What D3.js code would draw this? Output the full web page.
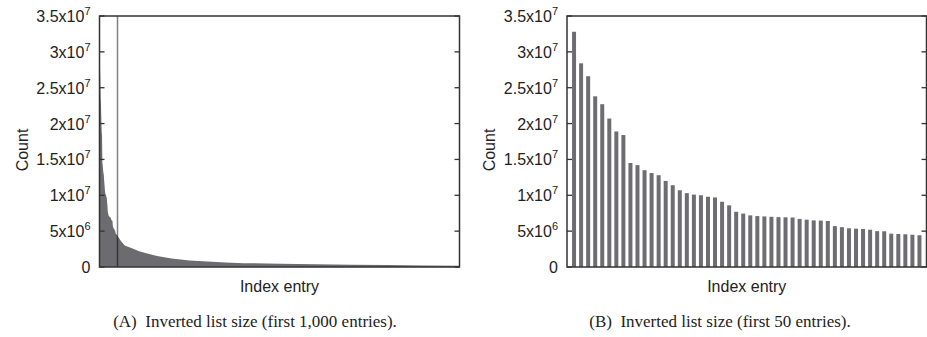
<!DOCTYPE html>
<html>
<head>
<meta charset="utf-8">
<script src="https://cdn.jsdelivr.net/npm/d3@7/dist/d3.min.js"></script>
<style>
  body { margin: 0; background: #fff; }
  svg { display: block; }
  .tick-label { font-family: "Liberation Sans", Arial, sans-serif; font-size: 16px; fill: #222; }
  .axis-title { font-family: "Liberation Sans", Arial, sans-serif; font-size: 16px; fill: #222; }
  .caption { font-family: "Liberation Serif", "Times New Roman", serif; font-size: 17px; fill: #222; }
</style>
</head>
<body>
<svg id="chart" width="927" height="337"></svg>
<script>

// counts (millions) of the first 50 index entries
const topCounts = [32.8, 28.4, 26.6, 23.8, 22.7, 20.7, 18.9, 18.4, 14.5, 14.2,
	13.5, 13.1, 12.8, 12.0, 11.4, 10.7, 10.3, 10.1, 10.0, 9.8,
	9.7, 9.1, 8.6, 7.7, 7.45, 7.2, 7.1, 7.05, 7.0, 6.95,
	6.93, 6.9, 6.7, 6.6, 6.5, 6.47, 6.42, 5.7, 5.55, 5.4,
	5.35, 5.3, 5.2, 5.0, 4.98, 4.65, 4.6, 4.56, 4.5, 4.42];

// tail of the 1,000-entry curve (index, millions)
const tailIndex = [60, 70, 90, 110, 130, 160, 200, 250, 300, 350, 400, 500, 600, 700, 800, 900, 1000];
const tailCounts = [3.6, 3.0, 2.6, 2.2, 1.9, 1.55, 1.2, 0.9, 0.75, 0.62, 0.54, 0.45, 0.38, 0.32, 0.27, 0.22, 0.17];

const yTicks = [0, 5e6, 1e7, 1.5e7, 2e7, 2.5e7, 3e7, 3.5e7];
const cutoff = 50;
const captions = ['(A)  Inverted list size (first 1,000 entries).', '(B)  Inverted list size (first 50 entries).'];

const svg = d3.select('#chart');
const top_y = 16, bottom_y = 267;

function tickText(sel, v) {
	sel.text(null);
	if (v === 0) { sel.text('0'); return; }
	let exp = Math.floor(Math.log10(v));
	let mant = +(v / Math.pow(10, exp)).toFixed(1);
	sel.append('tspan').text(mant + 'x10');
	sel.append('tspan').attr('dy', -7).attr('font-size', 11).text(exp);
}

function frame(g, x0, x1, y) {
	// ticks, labels and box
	yTicks.forEach(function(t) {
		g.append('line').attr('x1', x0).attr('x2', x0 + 5).attr('y1', y(t)).attr('y2', y(t)).attr('stroke', '#333').attr('stroke-width', 1.3);
		g.append('line').attr('x1', x1 - 5).attr('x2', x1).attr('y1', y(t)).attr('y2', y(t)).attr('stroke', '#333').attr('stroke-width', 1.3);
		g.append('text').attr('class', 'tick-label')
			.attr('x', x0 - 9).attr('y', y(t) + 6).attr('text-anchor', 'end')
			.call(tickText, t);
	});
	g.append('rect').attr('x', x0).attr('y', top_y).attr('width', x1 - x0).attr('height', bottom_y - top_y)
		.attr('fill', 'none').attr('stroke', '#333').attr('stroke-width', 1.5);
	g.append('text').attr('class', 'axis-title')
		.attr('transform', 'translate(' + (x0 - 72) + ',150) rotate(-90)')
		.attr('text-anchor', 'middle').text('Count');
	g.append('text').attr('class', 'axis-title')
		.attr('x', (x0 + x1) / 2).attr('y', 292).attr('text-anchor', 'middle').text('Index entry');
}

// panel A
let ax0 = 99.5, ax1 = 459.5;
let xA = d3.scaleLinear().domain([0, 1000]).range([ax0, ax1]);
let yA = d3.scaleLinear().domain([0, 3.5e7]).range([bottom_y, top_y]);
let pointsA = topCounts.map((v, i) => [i, v * 1e6])
	.concat(tailIndex.map((d, i) => [d, tailCounts[i] * 1e6]));
let gA = svg.append('g');
gA.append('path')
	.attr('d', d3.area().x(d => xA(d[0])).y0(yA(0)).y1(d => yA(d[1]))(pointsA))
	.attr('fill', '#6b6b70');
gA.append('line')
	.attr('x1', xA(cutoff)).attr('x2', xA(cutoff)).attr('y1', top_y).attr('y2', bottom_y)
	.attr('stroke', '#000').attr('stroke-opacity', 0.5).attr('stroke-width', 1.5);
frame(gA, ax0, ax1, yA);
gA.append('text').attr('class', 'caption').attr('x', 255).attr('y', 327).attr('text-anchor', 'middle')
	.attr('xml:space', 'preserve').text(captions[0]);

// panel B
let bx0 = 567, bx1 = 926.5;
let xB = d3.scaleLinear().domain([0, 51]).range([bx0, bx1]);
let yB = d3.scaleLinear().domain([0, 3.5e7]).range([bottom_y, top_y]);
let gB = svg.append('g');
gB.selectAll('rect.bar').data(topCounts).enter().append('rect')
	.attr('class', 'bar')
	.attr('x', (d, i) => xB(i + 1) - 2)
	.attr('width', 4)
	.attr('y', d => yB(d * 1e6))
	.attr('height', d => yB(0) - yB(d * 1e6))
	.attr('fill', '#6e6e72');
frame(gB, bx0, bx1, yB);
gB.append('text').attr('class', 'caption').attr('x', 720).attr('y', 327).attr('text-anchor', 'middle')
	.attr('xml:space', 'preserve').text(captions[1]);

</script>
</body>
</html>
